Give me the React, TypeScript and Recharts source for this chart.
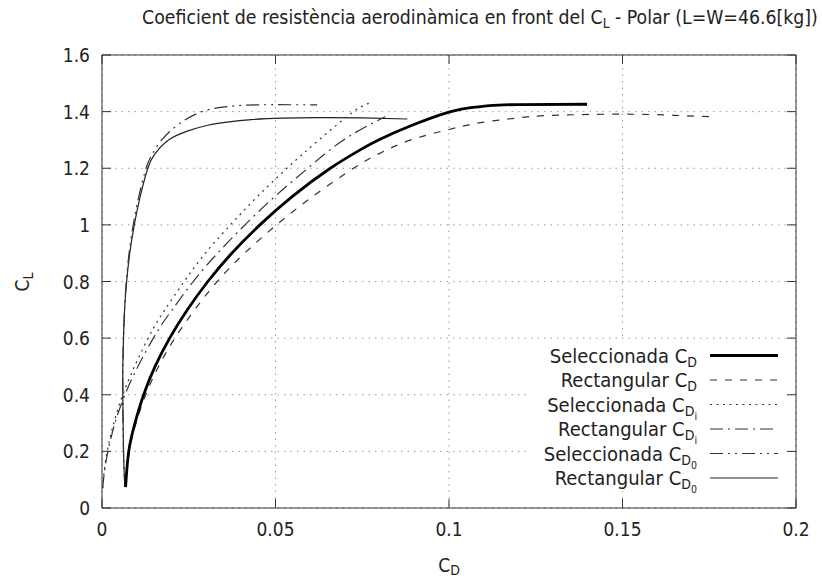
import { LineChart, Line, XAxis, YAxis, CartesianGrid, ReferenceLine } from 'recharts';

// [C_D, C_L] pairs
const selCD = [
  [0.0068, 0.074], [0.0077, 0.2], [0.0095, 0.3], [0.012, 0.4], [0.0153, 0.5], [0.0195, 0.6],
  [0.0246, 0.7], [0.0305, 0.8], [0.0374, 0.9], [0.0455, 1.0], [0.0548, 1.1], [0.0658, 1.2],
  [0.0744, 1.265], [0.0797, 1.3], [0.089, 1.35], [0.1005, 1.4], [0.107, 1.415], [0.1116, 1.421],
  [0.12, 1.425], [0.1398, 1.426],
];
const rectCD = [
  [0.0068, 0.074], [0.0079, 0.2], [0.0098, 0.3], [0.0126, 0.4], [0.0163, 0.5], [0.021, 0.6],
  [0.0267, 0.7], [0.0332, 0.8], [0.0411, 0.9], [0.0503, 1.0], [0.0607, 1.1], [0.0725, 1.2],
  [0.0796, 1.25], [0.089, 1.3], [0.1, 1.337], [0.109, 1.361], [0.12, 1.378], [0.13, 1.387],
  [0.15, 1.391], [0.165, 1.387], [0.175, 1.382],
];
const selCDi = [
  [0.0002, 0.07], [0.0015, 0.2], [0.006, 0.4], [0.0133, 0.6], [0.0181, 0.7], [0.0237, 0.8],
  [0.0298, 0.9], [0.037, 1.0], [0.0448, 1.1], [0.0533, 1.2], [0.0625, 1.3], [0.0725, 1.4], [0.0772, 1.43],
];
const rectCDi = [
  [0.0002, 0.07], [0.0017, 0.2], [0.0066, 0.4], [0.0148, 0.6], [0.0202, 0.7], [0.0263, 0.8],
  [0.0333, 0.9], [0.0412, 1.0], [0.0498, 1.1], [0.0593, 1.2], [0.0696, 1.3], [0.0816, 1.382],
];
const selCDo = [
  [0.0066, 0.074], [0.0062, 0.2], [0.006, 0.4], [0.006, 0.5], [0.0062, 0.6], [0.0065, 0.7],
  [0.007, 0.8], [0.0078, 0.9], [0.009, 1.0], [0.0106, 1.1], [0.0127, 1.2], [0.0145, 1.25],
  [0.0172, 1.3], [0.0215, 1.35], [0.026, 1.385], [0.031, 1.408], [0.037, 1.419], [0.045, 1.424],
  [0.062, 1.424],
];
const rectCDo = [
  [0.0066, 0.074], [0.0062, 0.2], [0.006, 0.4], [0.006, 0.5], [0.0062, 0.6], [0.0065, 0.7],
  [0.0071, 0.8], [0.008, 0.9], [0.0093, 1.0], [0.011, 1.1], [0.0132, 1.2], [0.0152, 1.25],
  [0.0192, 1.3], [0.025, 1.333], [0.0305, 1.352], [0.036, 1.363], [0.043, 1.372], [0.052, 1.377],
  [0.062, 1.379], [0.075, 1.378], [0.088, 1.374],
];

const xTicks = [0, 0.05, 0.1, 0.15, 0.2];
const yTicks = [0, 0.2, 0.4, 0.6, 0.8, 1, 1.2, 1.4, 1.6];

const toPts = (rows: number[][]) => rows.map(([cd, cl]) => ({ cd, cl }));

const FONT = '"DejaVu Sans Condensed", "DejaVu Sans", sans-serif';
const INK = '#222';

const styles = {
  selCD: { stroke: '#000', strokeWidth: 2.8, dash: undefined as string | undefined },
  rectCD: { stroke: '#333', strokeWidth: 1.2, dash: '7 8' },
  selCDi: { stroke: '#333', strokeWidth: 1.2, dash: '2 4.5' },
  rectCDi: { stroke: '#333', strokeWidth: 1.2, dash: '13 5 2 5' },
  selCDo: { stroke: '#333', strokeWidth: 1.2, dash: '13 5 2 5 2 5' },
  rectCDo: { stroke: '#222', strokeWidth: 1.2, dash: undefined as string | undefined },
};

const legendRows = [
  { name: 'Seleccionada', sub: 'D', sub2: '', st: styles.selCD },
  { name: 'Rectangular', sub: 'D', sub2: '', st: styles.rectCD },
  { name: 'Seleccionada', sub: 'D', sub2: 'i', st: styles.selCDi },
  { name: 'Rectangular', sub: 'D', sub2: 'i', st: styles.rectCDi },
  { name: 'Seleccionada', sub: 'D', sub2: '0', st: styles.selCDo },
  { name: 'Rectangular', sub: 'D', sub2: '0', st: styles.rectCDo },
];

const XTick = (props: any) => (
  <text x={props.x} y={props.y + 28} textAnchor="middle" fontSize={19} fontFamily={FONT} fill={INK}>
    {props.payload.value}
  </text>
);

const YTick = (props: any) => (
  <text x={props.x - 12} y={props.y + 7} textAnchor="end" fontSize={19} fontFamily={FONT} fill={INK}>
    {props.payload.value}
  </text>
);

const TX = 0.0026; // inward tick length in C_D units
const TY = 0.032; // inward tick length in C_L units

const series = [
  { rows: rectCDo, st: styles.rectCDo },
  { rows: selCDo, st: styles.selCDo },
  { rows: rectCDi, st: styles.rectCDi },
  { rows: selCDi, st: styles.selCDi },
  { rows: rectCD, st: styles.rectCD },
  { rows: selCD, st: styles.selCD },
];

export default function App() {
  return (
    <div style={{ position: 'absolute', left: 0, top: 0, width: 822, height: 579, background: '#fff' }}>
      <LineChart width={822} height={579} margin={{ top: 55, right: 26, bottom: 0, left: 0 }}>
        <CartesianGrid stroke="#999" strokeDasharray="1.5 5" />
        <XAxis
          type="number"
          dataKey="cd"
          domain={[0, 0.2]}
          ticks={xTicks}
          height={71}
          tickSize={0}
          tickMargin={0}
          tick={<XTick />}
          stroke="#333"
          allowDataOverflow
        />
        <YAxis
          type="number"
          domain={[0, 1.6]}
          ticks={yTicks}
          width={102}
          tickSize={0}
          tickMargin={0}
          tick={<YTick />}
          stroke="#333"
          allowDataOverflow
        />
        <ReferenceLine y={1.6} stroke="#333" />
        <ReferenceLine x={0.2} stroke="#333" />
        {yTicks.map((v) => (
          <ReferenceLine key={'yl' + v} segment={[{ x: 0, y: v }, { x: TX, y: v }]} stroke="#333" />
        ))}
        {yTicks.map((v) => (
          <ReferenceLine key={'yr' + v} segment={[{ x: 0.2 - TX, y: v }, { x: 0.2, y: v }]} stroke="#333" />
        ))}
        {xTicks.map((v) => (
          <ReferenceLine key={'xb' + v} segment={[{ x: v, y: 0 }, { x: v, y: TY }]} stroke="#333" />
        ))}
        {xTicks.map((v) => (
          <ReferenceLine key={'xt' + v} segment={[{ x: v, y: 1.6 - TY }, { x: v, y: 1.6 }]} stroke="#333" />
        ))}
        {series.map((s, i) => (
          <Line key={i} data={toPts(s.rows)} dataKey="cl" type="natural" dot={false} isAnimationActive={false}
            stroke={s.st.stroke} strokeWidth={s.st.strokeWidth} strokeDasharray={s.st.dash} />
        ))}
      </LineChart>

      <svg width={822} height={579} style={{ position: 'absolute', left: 0, top: 0, pointerEvents: 'none' }}
        fontFamily={FONT} fill={INK}>
        <text x={480} y={24} textAnchor="middle" fontSize={19.3}>
          Coeficient de resistència aerodinàmica en front del C
          <tspan fontSize={13.5} dy={4}>L</tspan>
          <tspan dy={-4}> - Polar (L=W=46.6[kg])</tspan>
        </text>
        <text x={449} y={572} textAnchor="middle" fontSize={19}>
          C<tspan fontSize={14} dy={3}>D</tspan>
        </text>
        <text transform="translate(29,282) rotate(-90)" textAnchor="middle" fontSize={19}>
          C<tspan fontSize={14} dy={4}>L</tspan>
        </text>

        <rect x={530} y={341} width={256} height={150} fill="#fff" />
        {legendRows.map((r, i) => {
          const cy = 355.5 + i * 24.5;
          return (
            <g key={i}>
              <text x={697} y={cy + 7} textAnchor="end" fontSize={20}>
                {r.name} C
                <tspan fontSize={14} dy={4}>{r.sub}</tspan>
                {r.sub2 ? <tspan fontSize={10.5} dy={4}>{r.sub2}</tspan> : null}
              </text>
              <line x1={710} x2={778} y1={cy} y2={cy} stroke={r.st.stroke} strokeWidth={r.st.strokeWidth}
                strokeDasharray={r.st.dash} />
            </g>
          );
        })}
      </svg>
    </div>
  );
}
